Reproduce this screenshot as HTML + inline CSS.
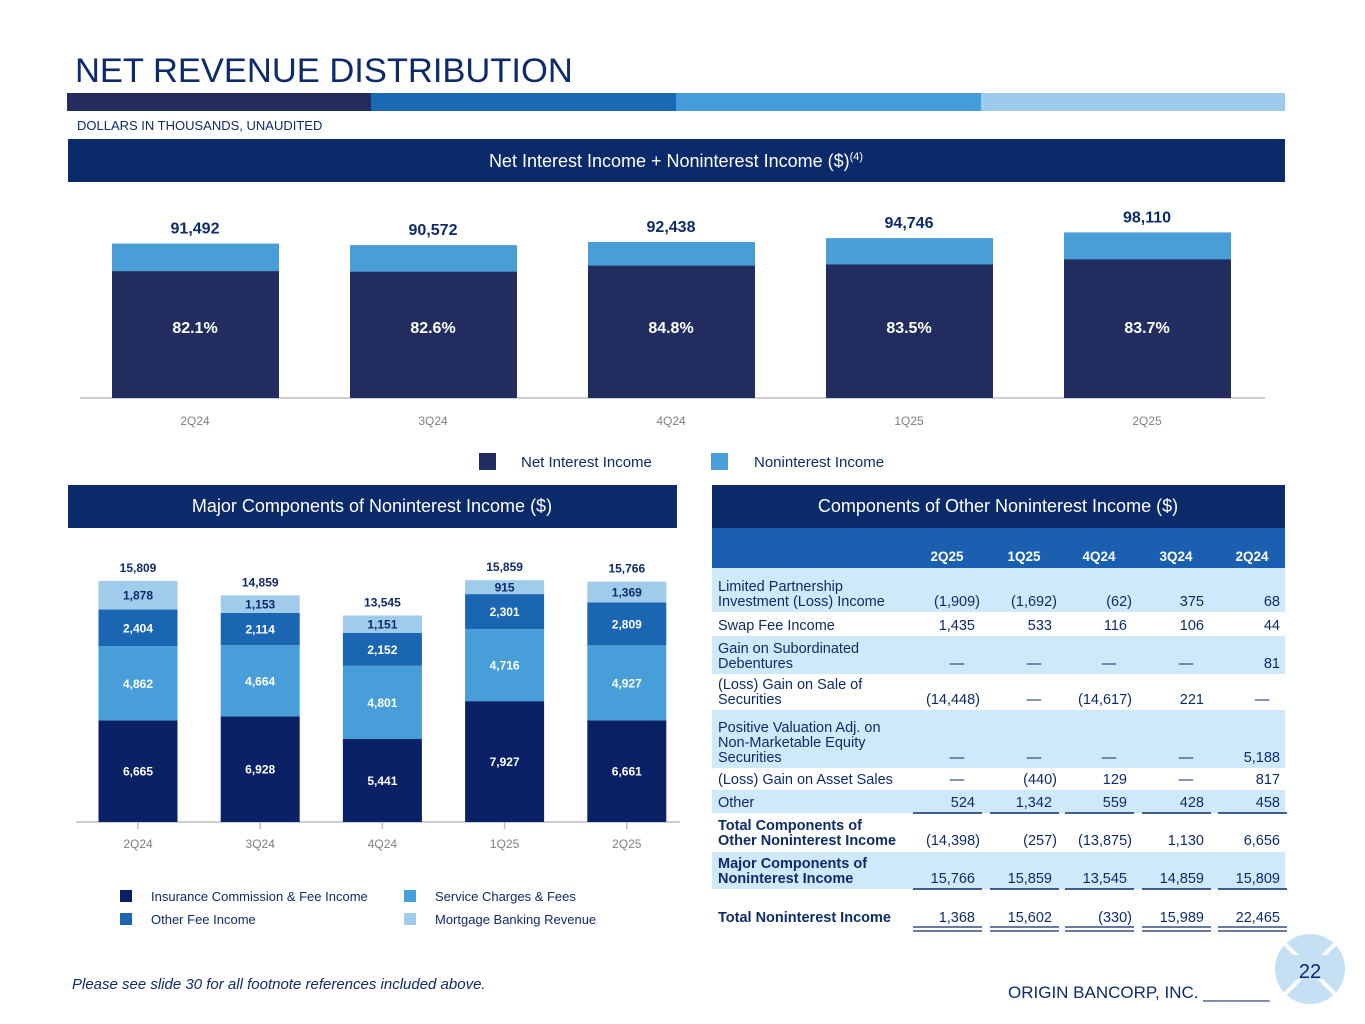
<!DOCTYPE html>
<html><head><meta charset="utf-8"><style>
body{margin:0;width:1365px;height:1024px;overflow:hidden;background:#fff;font-family:"Liberation Sans",Arial,sans-serif;}
svg{position:absolute;left:0;top:0}
</style></head><body>
<svg id="s" width="1365" height="1024" viewBox="0 0 1365 1024">
<text x="75" y="82" font-size="34.5" fill="#0d2b6b">NET REVENUE DISTRIBUTION</text>
<g>
<rect x="67" y="93" width="304" height="18" fill="#252d5e"/><rect x="371" y="93" width="305" height="18" fill="#1a69b4"/>
<rect x="676" y="93" width="305" height="18" fill="#449cd8"/><rect x="981" y="93" width="304" height="18" fill="#9ccbeb"/></g>
<text x="77" y="130" font-size="13" fill="#0d2b6b">DOLLARS IN THOUSANDS, UNAUDITED</text>
<rect x="68" y="139" width="1217" height="43" fill="#0b2a6a"/>
<text x="676" y="167" font-size="18" fill="#fff" text-anchor="middle">Net Interest Income + Noninterest Income ($)<tspan font-size="11" dy="-7">(4)</tspan></text>
<g id="top"></g>
<g>
<rect x="479" y="453" width="17" height="17" fill="#232c5f"/><text x="521" y="467" font-size="15" fill="#0d2b6b">Net Interest Income</text>
<rect x="711" y="453" width="17" height="17" fill="#4a9ed8"/><text x="754" y="467" font-size="15" fill="#0d2b6b">Noninterest Income</text></g>
<rect x="68" y="485" width="609" height="43" fill="#0b2a6a"/>
<text x="372" y="512" font-size="18" fill="#fff" text-anchor="middle">Major Components of Noninterest Income ($)</text>
<rect x="712" y="485" width="573" height="43" fill="#0b2a6a"/>
<text x="998" y="512" font-size="18" fill="#fff" text-anchor="middle">Components of Other Noninterest Income ($)</text>
<g id="bot"></g>
<g font-size="13" fill="#0d2b6b">
<rect x="120" y="890" width="12" height="12" fill="#0a2166"/><text x="151" y="901">Insurance Commission &amp; Fee Income</text>
<rect x="404" y="890" width="12" height="12" fill="#479ed8"/><text x="435" y="901">Service Charges &amp; Fees</text>
<rect x="120" y="913" width="12" height="12" fill="#1a66b3"/><text x="151" y="924">Other Fee Income</text>
<rect x="404" y="913" width="12" height="12" fill="#a0cbea"/><text x="435" y="924">Mortgage Banking Revenue</text></g>
<g id="tbl"></g>
<text x="72" y="989" font-size="15" font-style="italic" fill="#0d2b6b">Please see slide 30 for all footnote references included above.</text>
<text x="1008" y="998" font-size="17" fill="#0d2b6b">ORIGIN BANCORP, INC. _______</text>
<g>
<circle cx="1310" cy="969" r="35" fill="#c5dff3"/>
<line x1="1285" y1="944" x2="1335" y2="994" stroke="#fff" stroke-width="4"/><line x1="1335" y1="944" x2="1285" y2="994" stroke="#fff" stroke-width="4"/>
<rect x="1292" y="955" width="36" height="24" fill="#c5dff3"/>
<text x="1310" y="978" font-size="20" fill="#0d2b6b" text-anchor="middle">22</text></g>
</svg>
<script>
const NS="http://www.w3.org/2000/svg";
function mk(p,t,a,txt){const e=document.createElementNS(NS,t);for(const k in a)e.setAttribute(k,a[k]);if(txt!=null)e.textContent=txt;p.appendChild(e);return e;}
// top chart data
const topCats=["2Q24","3Q24","4Q24","1Q25","2Q25"];
const topTotals=[91492,90572,92438,94746,98110];
const topNiiPct=[82.1,82.6,84.8,83.5,83.7];
const fmt=v=>v.toLocaleString("en-US");
const tg=document.getElementById("top");
const tBase=398,tScale=0.001688;
const tx=i=>195+i*238;
const ty=v=>tBase-v*tScale;
mk(tg,"line",{x1:80,y1:tBase,x2:1265,y2:tBase,stroke:"#bfbfbf","stroke-width":1.5});
topCats.forEach((c,i)=>{
 const tot=topTotals[i],nii=tot*topNiiPct[i]/100;
 let r=mk(tg,"rect",{x:tx(i)-83,y:ty(tot),width:167,height:tBase-ty(tot),fill:"#4a9ed8"});
 
 r=mk(tg,"rect",{x:tx(i)-83,y:ty(nii),width:167,height:tBase-ty(nii),fill:"#232c5f"});
 
 let t=mk(tg,"text",{x:tx(i),y:333,"font-size":16,"font-weight":"bold",fill:"#fff","text-anchor":"middle"},topNiiPct[i].toFixed(1)+"%");
 
 t=mk(tg,"text",{x:tx(i),y:ty(tot)-10,"font-size":16,"font-weight":"bold",fill:"#0d2b6b","text-anchor":"middle"},fmt(tot));
 
 t=mk(tg,"text",{x:tx(i),y:425,"font-size":12,fill:"#7f7f7f","text-anchor":"middle"},c);
 
});
// bottom chart data
const botCats=["2Q24","3Q24","4Q24","1Q25","2Q25"];
const insurance=[6665,6928,5441,7927,6661];
const service=[4862,4664,4801,4716,4927];
const otherFee=[2404,2114,2152,2301,2809];
const mortgage=[1878,1153,1151,915,1369];
const botTotals=[15809,14859,13545,15859,15766];
const bg=document.getElementById("bot");
const bBase=822,bScale=0.01525;
const bx=i=>138+i*122.2;
const seriesList=[[insurance,"#0a2166","insurance"],[service,"#479ed8","service"],[otherFee,"#1a66b3","other-fee"],[mortgage,"#a0cbea","mortgage"]];
mk(bg,"line",{x1:76,y1:bBase,x2:680,y2:bBase,stroke:"#bfbfbf","stroke-width":1.5});
botCats.forEach((c,i)=>{
 let cum=0;
 seriesList.forEach(([arr,col,nm],k)=>{
  const y0=bBase-cum*bScale,y1=bBase-(cum+arr[i])*bScale;
  const r=mk(bg,"rect",{x:bx(i)-39.5,y:y1,width:79,height:y0-y1,fill:col});
  
  const t=mk(bg,"text",{x:bx(i),y:(y0+y1)/2+4.5,"font-size":12,"font-weight":"bold",fill:k==3?"#0d2b6b":"#fff","text-anchor":"middle"},fmt(arr[i]));
  
  cum+=arr[i];
 });
 let t=mk(bg,"text",{x:bx(i),y:bBase-cum*bScale-9,"font-size":12,"font-weight":"bold",fill:"#0d2b6b","text-anchor":"middle"},fmt(botTotals[i]));
 
 mk(bg,"line",{x1:bx(i),y1:bBase,x2:bx(i),y2:bBase+7,stroke:"#bfbfbf","stroke-width":1.5});
 t=mk(bg,"text",{x:bx(i),y:848,"font-size":12,fill:"#7f7f7f","text-anchor":"middle"},c);
 
});
// table
const tg2=document.getElementById("tbl");
mk(tg2,"rect",{x:712,y:528,width:573,height:40,fill:"#1a5fb0"});
const colR=[982,1059,1134,1211,1287];
["2Q25","1Q25","4Q24","3Q24","2Q24"].forEach((h,j)=>{const t=mk(tg2,"text",{x:colR[j]-35,y:561,"font-size":13.5,"font-weight":"bold",fill:"#fff","text-anchor":"middle"},h);
 });
const rows=[
 [568,612,true,["Limited Partnership","Investment (Loss) Income"],["(1,909)","(1,692)","(62)","375","68"],false],
 [612,636,false,["Swap Fee Income"],["1,435","533","116","106","44"],false],
 [636,674,true,["Gain on Subordinated","Debentures"],["—","—","—","—","81"],false],
 [674,710,false,["(Loss) Gain on Sale of","Securities"],["(14,448)","—","(14,617)","221","—"],false],
 [710,768,true,["Positive Valuation Adj. on","Non-Marketable Equity","Securities"],["—","—","—","—","5,188"],false],
 [768,790,false,["(Loss) Gain on Asset Sales"],["—","(440)","129","—","817"],false],
 [790,813,true,["Other"],["524","1,342","559","428","458"],false],
 [815,851,false,["Total Components of","Other Noninterest Income"],["(14,398)","(257)","(13,875)","1,130","6,656"],true],
 [852,889,true,["Major Components of","Noninterest Income"],["15,766","15,859","13,545","14,859","15,809"],true],
 [900,930,false,["Total Noninterest Income"],["1,368","15,602","(330)","15,989","22,465"],true]
];
rows.forEach((r,ri)=>{
 const [y0,y1,shade,lab,vals,bold]=r;
 if(shade)mk(tg2,"rect",{x:712,y:y0,width:573,height:y1-y0,fill:"#cfe9fb"});
 const last=ri==9?922:y1-6;
 lab.forEach((l,k)=>{const t=mk(tg2,"text",{x:718,y:last-(lab.length-1-k)*15,"font-size":14.5,"font-weight":bold?"bold":"normal",fill:"#0d2b6b"},l);
  });
 vals.forEach((v,j)=>{const par=v.endsWith(")");const dash=v=="—";
  const t=mk(tg2,"text",{x:dash?colR[j]-25:colR[j]-(par?2:7),y:last,"font-size":14.5,fill:"#0d2b6b","text-anchor":dash?"middle":"end"},v);
  });
});
colR.forEach(x=>{
 [813,889].forEach(y=>mk(tg2,"line",{x1:x-69,y1:y,x2:x,y2:y,stroke:"#0d2b6b","stroke-width":1.5}));
 [927,931].forEach(y=>mk(tg2,"line",{x1:x-69,y1:y,x2:x,y2:y,stroke:"#0d2b6b","stroke-width":1.3}));
});
</script>
</body></html>
